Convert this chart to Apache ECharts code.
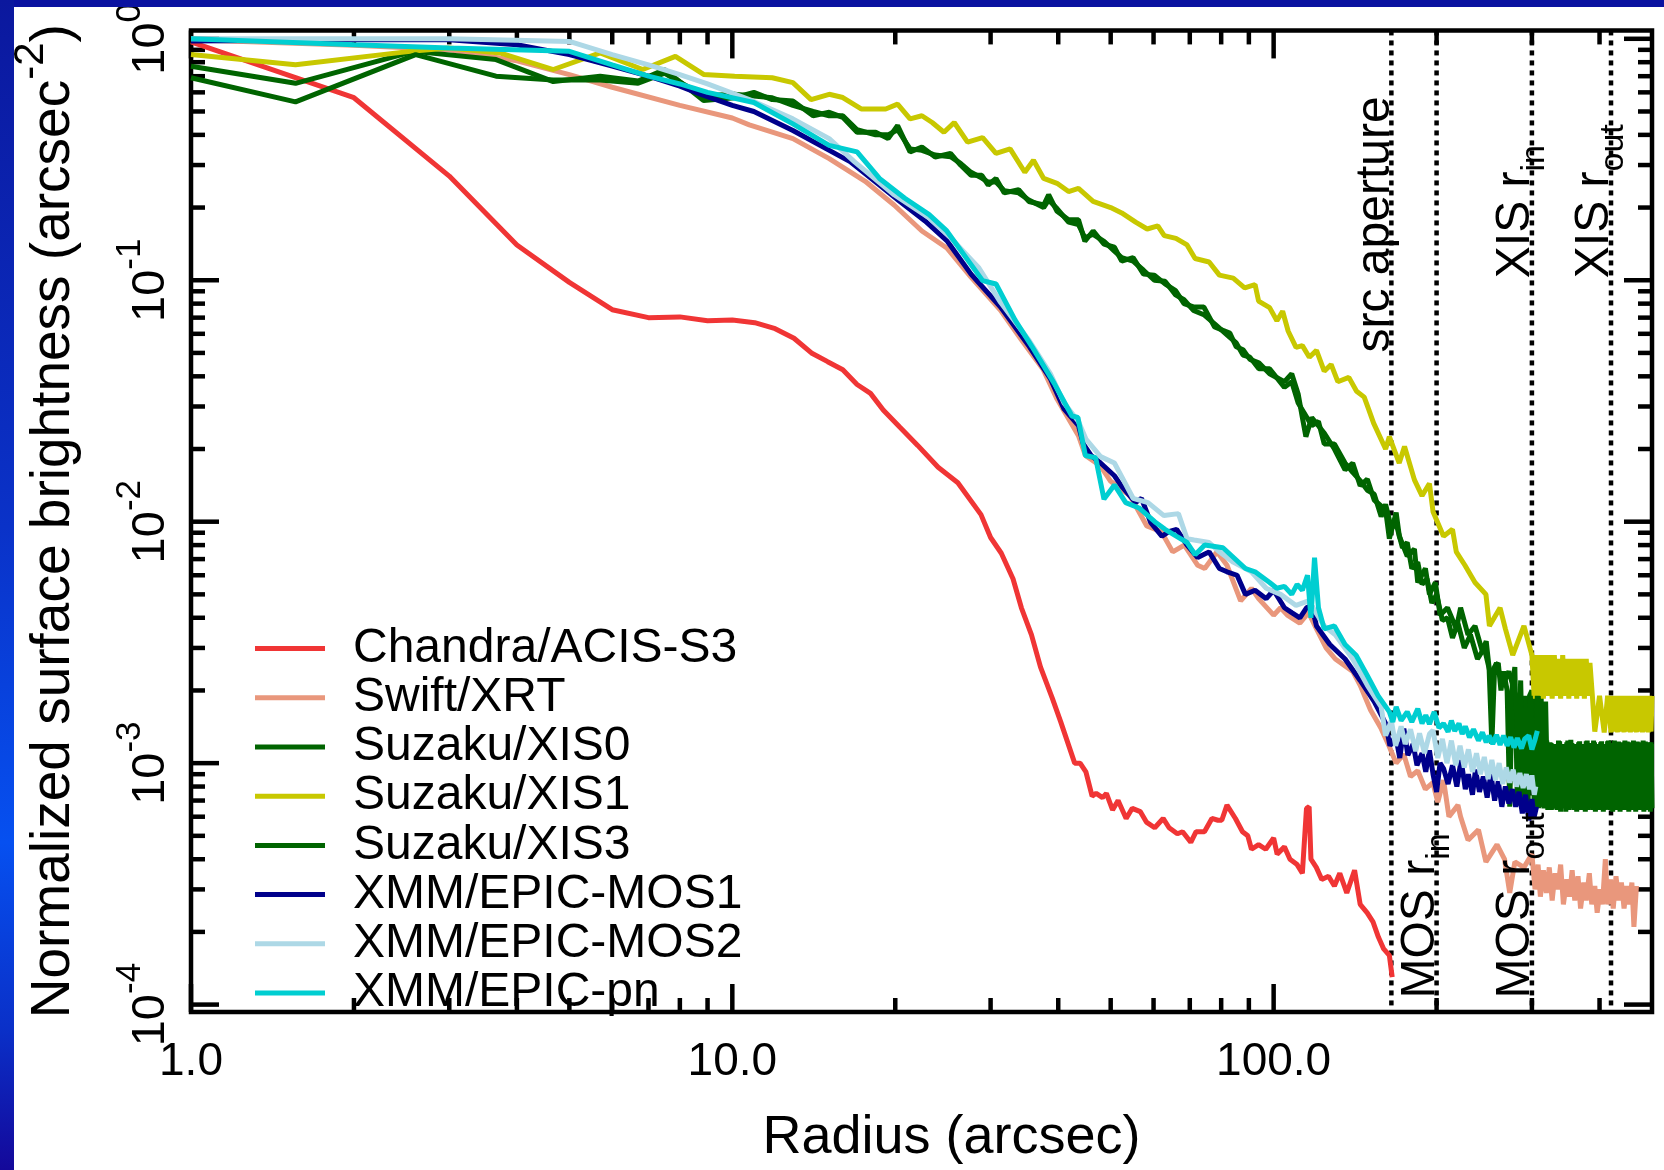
<!DOCTYPE html>
<html><head><meta charset="utf-8">
<script src="https://cdn.jsdelivr.net/npm/echarts@6/dist/echarts.min.js"></script>
<style>html,body{margin:0;padding:0;background:#fff;}#c{width:1664px;height:1170px;}</style>
</head><body><div id="c"></div>
<script>
const FONT = "'Liberation Sans', Arial, Helvetica, sans-serif";

const SERIES_NAMES = ['Chandra/ACIS-S3','Swift/XRT','Suzaku/XIS0','Suzaku/XIS1','Suzaku/XIS3','XMM/EPIC-MOS1','XMM/EPIC-MOS2','XMM/EPIC-pn'];

const CHANDRA = [[1.0,0.97],[1.56,0.69],[2.0,0.57],[3.0,0.27],[4.0,0.14],[5.0,0.098],[6.0,0.0755],[7.0,0.070],[8.0,0.0705],[9.0,0.068],[10.0,0.0685],[11.0,0.0667],[12.0,0.063],[13.0,0.0575],[14.0,0.050],[15.0,0.046],[16.0,0.0426],[17.0,0.037],[18.0,0.034],[19.0,0.029],[20.4,0.0246],[22.0,0.0207],[24.0,0.0168],[26.1,0.0145],[28.8,0.0107],[30.0,0.0086],[31.4,0.0074],[33.0,0.0058],[34.2,0.0044],[35.7,0.0034],[37.1,0.0025],[39.0,0.00186],[40.4,0.00149],[42.9,0.00100],[43.9,0.00100],[45.0,0.00092],[46.2,0.00073],[47.0,0.00075],[48.3,0.00072],[49.1,0.00075],[50.4,0.00064],[51.6,0.00070],[53.4,0.00059],[54.8,0.00065],[56.7,0.00063],[58.2,0.00057],[60.3,0.00054],[62.5,0.00059],[64.1,0.00054],[66.4,0.00051],[67.9,0.00052],[70.3,0.00047],[71.9,0.00052],[74.5,0.00052],[76.9,0.00059],[78.9,0.00058],[80.2,0.00058],[82.0,0.00067],[85.0,0.00059],[87.6,0.00052],[89.6,0.00050],[91.0,0.00044],[93.8,0.00046],[96.7,0.00044],[100.0,0.00049],[101.5,0.00042],[104.7,0.00045],[107.2,0.00040],[110.5,0.00038],[113.0,0.00035],[115.0,0.00065],[116.3,0.00066],[117.2,0.00040],[119.9,0.00037],[122.7,0.00033],[126.3,0.00034],[129.5,0.00031],[132.5,0.00035],[136.5,0.00029],[141.1,0.00036],[144.5,0.00026],[148.9,0.00024],[152.6,0.00022],[156.2,0.00019],[159.7,0.00017],[163.6,0.00016],[165.6,0.00013]];

const SWIFT = [[1.0,0.99],[2.0,0.94],[3.0,0.90],[4.0,0.81],[5.0,0.71],[6.0,0.63],[8.0,0.53],[10.0,0.47],[10.75,0.44],[12.94,0.386],[15.1,0.319],[17.6,0.257],[19.9,0.205],[22.4,0.16],[24.9,0.136],[27.6,0.103],[31.3,0.075],[34.2,0.0567],[37.5,0.0428],[39.8,0.0322],[43.6,0.0227],[44.9,0.0188],[47.9,0.017],[50.0,0.0147],[54.3,0.0128],[58.3,0.0096],[62.0,0.0091],[65.1,0.0075],[68.4,0.008],[72.4,0.0066],[74.6,0.0064],[78.6,0.0075],[82.0,0.0066],[86.9,0.0047],[91.0,0.0053],[93.8,0.0048],[100.0,0.0041],[103.0,0.0044],[106.0,0.0041],[111.8,0.0038],[116.0,0.0042],[120.0,0.0036],[125.0,0.0030],[130.0,0.0027],[140.0,0.0024],[144.5,0.0021],[151.0,0.00166],[158.0,0.00139],[163.6,0.00117],[168.4,0.0010],[173.9,0.00109],[179.0,0.00088],[184.6,0.00093],[190.7,0.00078],[196.9,0.00083],[201.0,0.00069],[206.0,0.00085],[210.8,0.00060],[219.0,0.00067],[221.5,0.00060],[228.6,0.00048],[239.0,0.00053],[246.7,0.00039],[258.6,0.00046],[267.0,0.00040],[273.0,0.00029],[279.0,0.00039],[290.0,0.00037],[300.0,0.00042],[304,0.00030],[308,0.00038],[311,0.00028],[315,0.00036],[319,0.00029],[323,0.00037],[327,0.00027],[331,0.00035],[335,0.00030],[339,0.00038],[343,0.00026],[348,0.00033],[352,0.00028],[356,0.00036],[360,0.00027],[365,0.00034],[369,0.00025],[374,0.00032],[378,0.00027],[383,0.00035],[387,0.00026],[392,0.00031],[396,0.00024],[401,0.00030],[405,0.00026],[410,0.00040],[414,0.00026],[419,0.00033],[424,0.00025],[429,0.00034],[434,0.00027],[439,0.00032],[444,0.00025],[449,0.00031],[454,0.00026],[459,0.00032],[463,0.00021],[468,0.00031]];

const XIS0 = [[1.0,0.77],[1.56,0.654],[2.58,0.887],[3.66,0.82],[4.67,0.665],[5.7,0.70],[6.7,0.668],[7.5,0.745],[8.85,0.555],[10.1,0.57],[10.96,0.60],[11.85,0.56],[12.94,0.553],[14.1,0.48],[15.1,0.496],[16.0,0.473],[17.0,0.41],[18.4,0.41],[19.4,0.386],[20.2,0.437],[21.3,0.34],[22.4,0.356],[23.7,0.324],[25.3,0.335],[26.4,0.30],[27.6,0.272],[28.9,0.272],[29.7,0.248],[30.7,0.264],[31.8,0.23],[33.8,0.237],[35.3,0.212],[37.6,0.205],[38.4,0.226],[39.8,0.193],[41.8,0.178],[43.6,0.178],[44.8,0.145],[46.4,0.16],[48.6,0.141],[50.8,0.137],[52.4,0.12],[55.0,0.124],[57.5,0.106],[60.2,0.105],[63.0,0.0966],[65.9,0.0906],[68.3,0.08],[71.1,0.0775],[74.3,0.0775],[77.8,0.064],[83.0,0.0604],[85.3,0.053],[87.8,0.0515],[90.4,0.047],[93.9,0.0455],[98.3,0.041],[104.7,0.038],[108.0,0.041],[111.0,0.0338],[113.0,0.027],[114.7,0.0225],[117.6,0.027],[124.0,0.0233],[129.5,0.020],[135.5,0.0164],[140.0,0.0175],[144.5,0.0141],[149.0,0.015],[153.4,0.0123],[161.0,0.0112],[163.6,0.0085],[168.4,0.0109],[170.7,0.0087],[176.5,0.0072],[182.0,0.0077],[184.6,0.0056],[190.7,0.0064],[194.0,0.0050],[199.0,0.0056],[203.0,0.0041],[209.5,0.0044],[217.5,0.0036],[221.5,0.0044],[228.6,0.0034],[235.5,0.0037],[243,0.0029],[247,0.0032],[250,0.0025],[253,0.0012],[256,0.0025],[260,0.0026],[263,0.0020],[266,0.0024],[270,0.0020],[273,0.00066],[276,0.0021],[279,0.0025],[282,0.00068],[285,0.0019],[288,0.00066],[291,0.0019],[294,0.00065],[297,0.0019],[300,0.0020],[303,0.00066],[306,0.0019],[309,0.00065],[312,0.0019],[315,0.00066],[318,0.0018],[321,0.00064],[324,0.00122],[327,0.00064],[330,0.00120],[333,0.00065],[336,0.00124],[339,0.00063],[342,0.00118],[345,0.00066],[348,0.00122],[351,0.00064],[354,0.00125],[357,0.00065],[360,0.00120],[363,0.00063],[366,0.00122],[369,0.00064],[372,0.00119],[375,0.00066],[378,0.00123],[381,0.00064],[384,0.00121],[387,0.00065],[390,0.00124],[393,0.00063],[396,0.00120],[399,0.00064],[402,0.00122],[405,0.00066],[408,0.00118],[411,0.00064],[414,0.00123],[417,0.00065],[420,0.00121],[423,0.00063],[426,0.00124],[429,0.00064],[432,0.00120],[435,0.00066],[438,0.00122],[441,0.00064],[444,0.00119],[447,0.00065],[450,0.00123],[453,0.00063],[456,0.00121],[459,0.00064],[462,0.00124],[465,0.00066],[468,0.00120],[471,0.00064],[474,0.00122],[477,0.00065],[480,0.00118],[483,0.00063],[486,0.00123],[489,0.00064],[492,0.00121],[495,0.00066],[498,0.00122],[500,0.00065]];

const XIS1 = [[1.0,0.86],[1.56,0.78],[2.54,0.887],[3.0,0.916],[3.72,0.874],[4.67,0.746],[5.7,0.874],[6.83,0.746],[7.85,0.846],[8.85,0.712],[10.1,0.70],[11.85,0.69],[12.94,0.658],[13.98,0.56],[15.1,0.589],[16.0,0.571],[17.3,0.512],[19.2,0.512],[20.2,0.536],[21.3,0.466],[22.4,0.48],[23.4,0.45],[24.6,0.41],[25.7,0.45],[27.2,0.373],[29.0,0.39],[30.7,0.335],[32.6,0.35],[34.7,0.28],[36.0,0.314],[37.6,0.264],[39.8,0.252],[41.8,0.233],[43.6,0.24],[46.4,0.212],[50.0,0.20],[52.4,0.19],[55.6,0.174],[58.4,0.163],[61.1,0.168],[62.8,0.153],[66.0,0.149],[69.2,0.14],[71.6,0.123],[76.0,0.119],[79.4,0.105],[84.2,0.102],[88.4,0.093],[92.4,0.096],[93.8,0.082],[98.3,0.077],[101.4,0.068],[103.9,0.0744],[106.4,0.0615],[110.0,0.0527],[113.0,0.0536],[116.4,0.048],[120.0,0.0512],[124.0,0.042],[127.7,0.0448],[131.4,0.038],[137.7,0.0396],[142.3,0.0347],[147.0,0.0328],[150.0,0.029],[153.0,0.0256],[161.0,0.020],[163.6,0.0225],[170.6,0.0175],[174.5,0.0205],[182.0,0.0149],[188.0,0.0128],[194.0,0.0144],[197.0,0.011],[206.0,0.0087],[214.0,0.0093],[217.5,0.0075],[225.6,0.0066],[235.5,0.0056],[246.7,0.0050],[250.4,0.0037],[262.0,0.0044],[268.0,0.0036],[276.5,0.0028],[290.0,0.0037],[300,0.0028],[303,0.00185],[306,0.0028],[309,0.0019],[312,0.0028],[315,0.00185],[318,0.0028],[321,0.0019],[324,0.0028],[327,0.00185],[330,0.0028],[333,0.0019],[336,0.0027],[339,0.00185],[342,0.0028],[345,0.0019],[348,0.0027],[351,0.00185],[354,0.0027],[357,0.0019],[360,0.0027],[363,0.00185],[366,0.0027],[369,0.0019],[372,0.0027],[375,0.00185],[378,0.0027],[381,0.0019],[384,0.0026],[388,0.0019],[392,0.00135],[400,0.0019],[408,0.00134],[414,0.0019],[420,0.00134],[423,0.0019],[426,0.00135],[429,0.0019],[432,0.00134],[435,0.0019],[438,0.00135],[441,0.0019],[444,0.00134],[447,0.0019],[450,0.00135],[453,0.0019],[456,0.00134],[459,0.0019],[462,0.00135],[465,0.0019],[468,0.00134],[471,0.0019],[474,0.00135],[477,0.0019],[480,0.00134],[483,0.0019],[486,0.00135],[489,0.0019],[492,0.00134],[495,0.0019],[498,0.00135],[500,0.0019]];

const XIS3 = [[1.0,0.69],[1.56,0.548],[2.6,0.86],[3.66,0.70],[4.67,0.675],[5.7,0.675],[6.7,0.655],[7.5,0.72],[8.85,0.58],[10.1,0.59],[10.96,0.58],[11.85,0.57],[12.94,0.53],[14.1,0.50],[15.1,0.48],[16.0,0.48],[17.0,0.42],[18.4,0.40],[19.4,0.40],[20.2,0.42],[21.3,0.35],[22.4,0.345],[23.7,0.33],[25.3,0.325],[26.4,0.305],[27.6,0.28],[28.9,0.265],[29.7,0.255],[30.7,0.255],[31.8,0.235],[33.8,0.23],[35.3,0.215],[37.6,0.20],[38.4,0.215],[39.8,0.198],[41.8,0.174],[43.6,0.17],[44.8,0.15],[46.4,0.155],[48.6,0.145],[50.8,0.132],[52.4,0.124],[55.0,0.12],[57.5,0.11],[60.2,0.10],[63.0,0.099],[65.9,0.087],[68.3,0.083],[71.1,0.075],[74.3,0.072],[77.8,0.066],[83.0,0.058],[85.3,0.055],[87.8,0.049],[90.4,0.048],[93.9,0.043],[98.3,0.043],[104.7,0.036],[108.0,0.038],[111.0,0.031],[113.0,0.029],[117.6,0.025],[121.0,0.026],[124.0,0.021],[129.5,0.021],[135.5,0.0175],[140.0,0.016],[144.5,0.0148],[149.0,0.0135],[153.4,0.013],[158.0,0.0105],[161.0,0.0118],[165.0,0.0094],[168.4,0.0098],[173.0,0.0078],[176.5,0.0082],[180.0,0.0064],[184.6,0.0068],[188.0,0.0055],[192.0,0.0058],[196.0,0.0046],[200.0,0.0050],[205.0,0.0039],[209.5,0.0040],[214.0,0.0033],[219.0,0.0038],[225.0,0.0030],[231.0,0.0034],[238.0,0.0027],[245.0,0.0030],[252.0,0.0023],[258.0,0.0026],[265.0,0.0021],[272.0,0.0024],[280,0.0019],[283,0.0012],[286,0.0022],[289,0.00075],[292,0.0017],[295,0.00066],[298,0.0019],[301,0.0012],[304,0.00066],[307,0.0019],[310,0.00066],[313,0.00122],[316,0.00065],[319.5,0.00124],[322.5,0.00064],[325.5,0.00121],[328.5,0.00066],[331.5,0.00119],[334.5,0.00064],[337.5,0.00123],[340.5,0.00065],[343.5,0.00120],[346.5,0.00063],[349.5,0.00124],[352.5,0.00066],[355.5,0.00121],[358.5,0.00064],[361.5,0.00118],[364.5,0.00065],[367.5,0.00123],[370.5,0.00064],[373.5,0.00120],[376.5,0.00063],[379.5,0.00124],[382.5,0.00066],[385.5,0.00121],[388.5,0.00064],[391.5,0.00122],[394.5,0.00065],[397.5,0.00119],[400.5,0.00064],[403.5,0.00123],[406.5,0.00063],[409.5,0.00120],[412.5,0.00066],[415.5,0.00124],[418.5,0.00064],[421.5,0.00121],[424.5,0.00065],[427.5,0.00118],[430.5,0.00064],[433.5,0.00123],[436.5,0.00063],[439.5,0.00120],[442.5,0.00066],[445.5,0.00124],[448.5,0.00064],[451.5,0.00121],[454.5,0.00065],[457.5,0.00122],[460.5,0.00064],[463.5,0.00119],[466.5,0.00063],[469.5,0.00123],[472.5,0.00066],[475.5,0.00120],[478.5,0.00064],[481.5,0.00124],[484.5,0.00065],[487.5,0.00121],[490.5,0.00064],[493.5,0.00122],[496.5,0.00063],[499,0.00120]];

const MOS1 = [[1.0,0.98],[2.0,0.99],[3.0,0.99],[4.0,0.945],[5.0,0.86],[6.0,0.77],[7.0,0.70],[8.0,0.637],[8.73,0.59],[10.0,0.53],[10.96,0.50],[12.94,0.417],[14.9,0.351],[16.5,0.31],[18.7,0.248],[20.4,0.212],[22.7,0.176],[24.9,0.146],[27.6,0.106],[31.3,0.0775],[35.4,0.053],[38.7,0.039],[41.0,0.0293],[43.6,0.025],[44.5,0.021],[46.0,0.0188],[47.9,0.0175],[50.8,0.0155],[52.4,0.014],[55.6,0.012],[57.0,0.0125],[59.3,0.0099],[62.2,0.0087],[64.0,0.0091],[66.2,0.0093],[69.2,0.008],[72.4,0.0071],[76.0,0.0075],[79.4,0.0064],[82.0,0.0062],[85.6,0.006],[88.7,0.005],[92.4,0.0052],[96.9,0.0048],[100.0,0.0052],[104.7,0.0044],[108.0,0.0042],[111.8,0.004],[115.0,0.0044],[117.5,0.0045],[120.0,0.0037],[127.0,0.0031],[135.5,0.0027],[144.5,0.0022],[153.4,0.0018],[161,0.00146],[164,0.00118],[168,0.00130],[171,0.00105],[174,0.00139],[177,0.00108],[181,0.00120],[184,0.00098],[188,0.00110],[191,0.00092],[194,0.00113],[197,0.00090],[200,0.00076],[203,0.00100],[206,0.00095],[210,0.00082],[214,0.00098],[218,0.00080],[222,0.00103],[226,0.00078],[229,0.00090],[233,0.00074],[236,0.00094],[240,0.00076],[244,0.00088],[248,0.00072],[252,0.00090],[256,0.00070],[260,0.00084],[264,0.00066],[268,0.00080],[272,0.00068],[276,0.00078],[280,0.00066],[284,0.00076],[288,0.00062],[292,0.00074],[296,0.00058],[300,0.00071],[303,0.00060],[306,0.00066]];

const MOS2 = [[1.0,1.0],[2.0,1.0],[3.0,1.0],[5.0,0.975],[6.0,0.86],[7.0,0.78],[8.0,0.71],[9.0,0.65],[10.75,0.56],[12.94,0.466],[15.1,0.386],[16.8,0.31],[19.9,0.226],[23.1,0.181],[25.3,0.15],[28.5,0.113],[31.3,0.081],[35.4,0.056],[38.7,0.041],[41.0,0.031],[43.6,0.026],[45.0,0.022],[47.9,0.0186],[50.8,0.0175],[55.0,0.0125],[58.6,0.012],[62.7,0.0106],[66.7,0.0108],[69.2,0.0085],[71.3,0.0084],[76.0,0.0082],[79.4,0.0075],[84.2,0.0068],[91.0,0.0062],[96.9,0.0053],[103.0,0.005],[110.0,0.0045],[116.0,0.0047],[124.0,0.0037],[130.0,0.0034],[140.0,0.0027],[149.0,0.0021],[158,0.00171],[161,0.00130],[165,0.00150],[168,0.00118],[172,0.00142],[175,0.00120],[179,0.00138],[183,0.00112],[186,0.00133],[190,0.00110],[194,0.00132],[197,0.00137],[201,0.00105],[205,0.00126],[209,0.00100],[213,0.00124],[217,0.00098],[221,0.00118],[225,0.00096],[229,0.00114],[233,0.00092],[237,0.00110],[241,0.00090],[245,0.00106],[249,0.00086],[253,0.00103],[257,0.00085],[261,0.00100],[265,0.00082],[269,0.00096],[273,0.00083],[277,0.00094],[281,0.00080],[285,0.00091],[289,0.00079],[293,0.00090],[297,0.00078],[300,0.00089],[303,0.00074],[305,0.00080]];

const PN = [[1.0,1.0],[2.0,0.945],[3.0,0.916],[5.0,0.887],[6.0,0.78],[7.0,0.70],[8.0,0.65],[9.0,0.60],[10.96,0.545],[12.94,0.444],[15.1,0.362],[17.0,0.34],[18.7,0.264],[20.8,0.219],[23.1,0.187],[24.9,0.16],[29.0,0.0996],[30.7,0.0965],[33.3,0.0684],[35.8,0.053],[39.3,0.0375],[42.4,0.0274],[43.5,0.027],[44.9,0.0188],[46.9,0.0184],[48.6,0.0124],[50.8,0.0142],[53.3,0.012],[56.4,0.0114],[60.3,0.010],[63.0,0.0093],[66.2,0.0087],[69.2,0.0082],[71.6,0.0073],[74.6,0.008],[80.6,0.0078],[88.7,0.0064],[92.4,0.0062],[98.3,0.0056],[101.4,0.0053],[104.7,0.0054],[108.0,0.005],[110.5,0.0055],[113.0,0.0052],[115.5,0.006],[117.2,0.004],[119.0,0.0071],[121.0,0.0044],[124.0,0.0036],[129.5,0.0037],[135.5,0.0031],[142.0,0.0028],[149.0,0.0023],[156.0,0.0019],[163.6,0.00163],[166,0.00148],[168.4,0.00171],[172,0.00150],[176.5,0.00163],[180,0.00148],[184.6,0.00168],[188,0.00146],[191,0.00158],[194,0.00145],[198,0.00163],[202,0.00140],[206,0.00146],[210,0.00135],[213,0.00150],[216,0.00136],[220,0.00146],[223,0.00132],[226,0.00142],[230,0.00128],[234,0.00138],[239,0.00124],[243,0.00134],[247,0.00122],[250,0.00130],[254,0.00120],[258,0.00131],[262,0.00119],[266,0.00130],[270,0.00118],[274,0.00128],[278,0.00116],[282,0.00127],[287,0.00115],[291,0.00126],[296,0.00130],[300,0.00114],[304,0.00125],[307,0.00136]];

const SERIES_DATA = [CHANDRA, SWIFT, XIS0, XIS1, XIS3, MOS1, MOS2, PN];
const SERIES_COLORS = ['#f03535','#e9977c','#006400','#c8c800','#006400','#00008b','#add8e6','#00ced1'];

const X_MAJOR_TICKS = [1, 10, 100];
const X_MINOR_TICKS = [2,3,4,5,6,7,8,9,20,30,40,50,60,70,80,90,200,300,400];
const Y_MAJOR_TICKS = [1e-4, 1e-3, 1e-2, 1e-1, 1];
const Y_MINOR_TICKS = [2e-4,3e-4,4e-4,5e-4,6e-4,7e-4,8e-4,9e-4,2e-3,3e-3,4e-3,5e-3,6e-3,7e-3,8e-3,9e-3,2e-2,3e-2,4e-2,5e-2,6e-2,7e-2,8e-2,9e-2,0.2,0.3,0.4,0.5,0.6,0.7,0.8,0.9];

const GUIDE_RADII = [165, 200, 300, 420];
const ANNOT_TEXT = [['src aperture',''],['MOS r','in'],['MOS r','out'],['XIS r','in'],['XIS r','out']];
const ANNOT_R = [165, 200, 300, 300, 420];
const ANNOT_V = [0.0502, 1.06e-4, 1.06e-4, 0.102, 0.102];

const X_MIN = 1, X_MAX = 500, Y_MIN = 9.318e-5, Y_MAX = 1.083;

function isDecade(v) {
  const l = Math.log10(v);
  return Math.abs(l - Math.round(l)) < 0.01;
}

const tickData = [];
X_MINOR_TICKS.forEach(v => tickData.push([v, 1, 0]));
X_MAJOR_TICKS.forEach(v => tickData.push([v, 1, 1]));
Y_MINOR_TICKS.forEach(v => tickData.push([1, v, 2]));
Y_MAJOR_TICKS.forEach(v => tickData.push([1, v, 3]));

const chart = echarts.init(document.getElementById('c'), null, {renderer: 'canvas'});

const lineSeries = SERIES_NAMES.map((name, i) => ({
  name: name,
  type: 'line',
  data: SERIES_DATA[i],
  color: SERIES_COLORS[i],
  showSymbol: false,
  symbol: 'none',
  lineStyle: {color: SERIES_COLORS[i], width: 5},
  itemStyle: {color: SERIES_COLORS[i]},
  z: 3,
  silent: true
}));

const option = {
  animation: false,
  backgroundColor: '#ffffff',
  textStyle: {fontFamily: FONT},
  grid: {left: 191, right: 12, top: 29.5, bottom: 148.5, show: true, borderWidth: 4.5, borderColor: '#000', backgroundColor: 'transparent'},
  legend: {
    orient: 'vertical', left: 250, top: 619,
    itemWidth: 70, itemHeight: 5, itemGap: 0, icon: 'rect',
    data: SERIES_NAMES,
    selectedMode: false,
    textStyle: {fontSize: 48, lineHeight: 49.2, color: '#000', fontFamily: FONT, padding: [0, 0, 0, 23]}
  },
  xAxis: {
    type: 'log', logBase: 10, min: X_MIN, max: X_MAX,
    axisLine: {show: false}, axisTick: {show: false}, splitLine: {show: false}, minorTick: {show: false},
    axisLabel: {
      fontSize: 46, color: '#000', fontFamily: FONT, margin: 27,
      formatter: v => isDecade(v) ? v.toFixed(1) : ''
    },
    name: 'Radius (arcsec)', nameLocation: 'middle', nameGap: 99,
    nameTextStyle: {fontSize: 54, color: '#000', fontFamily: FONT, padding: [0, 0, 0, 60]}
  },
  yAxis: {
    type: 'log', logBase: 10, min: Y_MIN, max: Y_MAX,
    axisLine: {show: false}, axisTick: {show: false}, splitLine: {show: false}, minorTick: {show: false},
    axisLabel: {
      rotate: 90, margin: 16, fontSize: 47, color: '#000', fontFamily: FONT,
      formatter: v => isDecade(v) ? '{b|10}{s|' + Math.round(Math.log10(v)) + '}' : '',
      rich: {
        b: {fontSize: 47, lineHeight: 47, fontFamily: FONT, color: '#000'},
        s: {fontSize: 35, height: 5, verticalAlign: 'top', fontFamily: FONT, color: '#000'}
      }
    },
    name: '{b|Normalized surface brightness (arcsec}{s|-2}{b|)}',
    nameLocation: 'middle', nameGap: 110,
    nameTextStyle: {
      rich: {
        b: {fontSize: 55, lineHeight: 55, fontFamily: FONT, color: '#000'},
        s: {fontSize: 42, height: 10, verticalAlign: 'top', fontFamily: FONT, color: '#000'}
      }
    }
  },
  graphic: [
    {type: 'rect', z: 100, left: 0, top: 0, shape: {width: 1664, height: 7}, style: {fill: '#0a12a0'}},
    {type: 'rect', z: 100, left: 0, top: 0, shape: {width: 14, height: 1170},
     style: {fill: new echarts.graphic.LinearGradient(0, 0, 0, 1, [
       {offset: 0, color: '#0b189e'}, {offset: 0.45, color: '#0a32c8'}, {offset: 0.72, color: '#0650f0'},
       {offset: 0.88, color: '#0a30c8'}, {offset: 1, color: '#14089a'}])}}
  ],
  series: [
    {
      type: 'custom', name: 'ticks', coordinateSystem: 'cartesian2d', silent: true, z: 1,
      data: tickData,
      renderItem: function (params, api) {
        const cs = params.coordSys;
        const kind = api.value(2);
        const len = (kind === 1 || kind === 3) ? 28 : 14;
        const st = {stroke: '#000', lineWidth: 4.5};
        if (kind <= 1) {
          const px = api.coord([api.value(0), 1])[0];
          return {type: 'group', children: [
            {type: 'line', shape: {x1: px, y1: cs.y + cs.height, x2: px, y2: cs.y + cs.height - len}, style: st},
            {type: 'line', shape: {x1: px, y1: cs.y, x2: px, y2: cs.y + len}, style: st}
          ]};
        }
        const py = api.coord([1, api.value(1)])[1];
        return {type: 'group', children: [
          {type: 'line', shape: {x1: cs.x, y1: py, x2: cs.x + len, y2: py}, style: st},
          {type: 'line', shape: {x1: cs.x + cs.width, y1: py, x2: cs.x + cs.width - len, y2: py}, style: st}
        ]};
      }
    },
    {
      type: 'custom', name: 'guides', coordinateSystem: 'cartesian2d', silent: true, z: 1,
      data: GUIDE_RADII.map(r => [r, 1]),
      renderItem: function (params, api) {
        const cs = params.coordSys;
        const px = api.coord([api.value(0), 1])[0];
        return {type: 'line', shape: {x1: px, y1: cs.y, x2: px, y2: cs.y + cs.height},
          style: {stroke: '#000', lineWidth: 4.5, lineDash: [5, 5]}};
      }
    }
  ].concat(lineSeries).concat([
    {
      type: 'custom', name: 'annotations', coordinateSystem: 'cartesian2d', silent: true, z: 5,
      data: ANNOT_R.map((r, i) => [r, ANNOT_V[i], i]),
      renderItem: function (params, api) {
        const i = api.value(2);
        const p = api.coord([api.value(0), api.value(1)]);
        const t = ANNOT_TEXT[i];
        const txt = t[1] ? '{m|' + t[0] + '}{s|' + t[1] + '}' : '{m|' + t[0] + '}';
        return {type: 'text', x: p[0] + 8, y: p[1], rotation: Math.PI / 2,
          style: {text: txt, align: 'left', verticalAlign: 'bottom', fill: '#000',
            fontFamily: FONT, fontSize: 48,
            rich: {
              m: {fontSize: 48, lineHeight: 48, fontFamily: FONT, fill: '#000'},
              s: {fontSize: 34, height: 10, verticalAlign: 'bottom', fontFamily: FONT, fill: '#000'}
            }}};
      }
    }
  ])
};
chart.setOption(option);
</script></body></html>
